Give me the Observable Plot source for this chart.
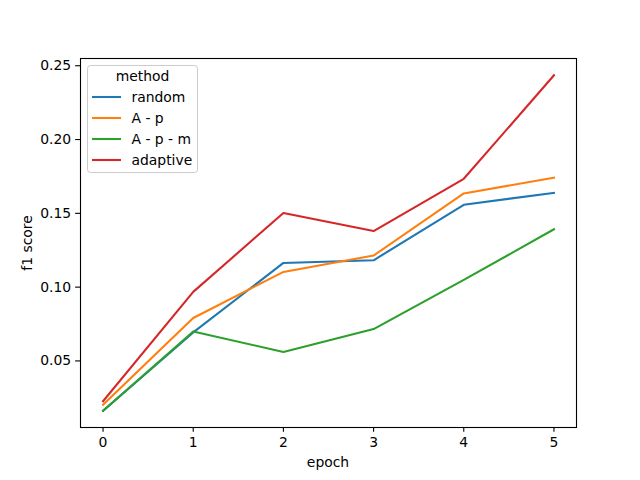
<!DOCTYPE html>
<html><head><meta charset="utf-8">
<script src="https://cdn.jsdelivr.net/npm/d3@7"></script>
<script src="https://cdn.jsdelivr.net/npm/@observablehq/plot@0.6"></script>
<style>body{margin:0;background:#fff} svg{font-family:"DejaVu Sans",sans-serif}</style>
</head><body><div id="chart"></div>
<script>
const epochs = [0, 1, 2, 3, 4, 5];
const methods = ["random", "A - p", "A - p - m", "adaptive"];
const colors = ["#1f77b4", "#ff7f0e", "#2ca02c", "#d62728"];
const random = [0.0162, 0.0693, 0.1164, 0.1182, 0.1558, 0.1639];
const ap = [0.0203, 0.0791, 0.1103, 0.1214, 0.1635, 0.1741];
const apm = [0.0162, 0.0700, 0.0561, 0.0716, 0.1049, 0.1392];
const adaptive = [0.0227, 0.0968, 0.1502, 0.1380, 0.1734, 0.2435];
const yTicks = [0.05, 0.10, 0.15, 0.20, 0.25];
const xLabel = "epoch", yLabel = "f1 score", legendTitle = "method";

const series = [random, ap, apm, adaptive];
const rows = [];
methods.forEach((m, i) => epochs.forEach((e, j) => rows.push({method: m, epoch: e, f1: series[i][j]})));

const fs = 13.9, tick = 4.86;
const plot = Plot.plot({
  width: 640, height: 480,
  marginLeft: 80, marginRight: 64, marginTop: 58, marginBottom: 53,
  style: {fontFamily: "DejaVu Sans", fontSize: fs + "px", background: "white", color: "black"},
  x: {domain: [-0.25, 5.25]},
  y: {domain: [0.0049, 0.2549]},
  color: {domain: methods, range: colors},
  marks: [
    Plot.axisX({ticks: epochs, tickFormat: d => String(d), tickSize: tick, tickPadding: 4.5, fontSize: fs, label: null, strokeWidth: 1.1}),
    Plot.axisY({ticks: yTicks, tickFormat: d3.format(".2f"), tickSize: tick, tickPadding: 4.5, fontSize: fs, label: null, strokeWidth: 1.1}),
    Plot.line(rows, {x: "epoch", y: "f1", stroke: "method", strokeWidth: 2.08, strokeLinecap: "square", strokeLinejoin: "round"}),
    Plot.frame({stroke: "black", strokeWidth: 1.1})
  ]
});
document.getElementById("chart").appendChild(plot);

const svg = d3.select(plot);
svg.append("text").attr("x", 328).attr("y", 462).attr("text-anchor", "middle")
  .attr("dominant-baseline", "central").attr("font-size", fs).attr("fill", "black").text(xLabel);
svg.append("text").attr("transform", "translate(27,243) rotate(-90)").attr("text-anchor", "middle")
  .attr("dominant-baseline", "central").attr("font-size", fs).attr("fill", "black").text(yLabel);

const lg = svg.append("g");
lg.append("rect").attr("x", 87.5).attr("y", 65.5).attr("width", 110).attr("height", 107).attr("rx", 3)
  .attr("fill", "white").attr("fill-opacity", 0.8).attr("stroke", "#cccccc").attr("stroke-width", 1);
lg.append("text").attr("x", 142.5).attr("y", 76).attr("text-anchor", "middle")
  .attr("dominant-baseline", "central").attr("font-size", fs).attr("fill", "black").text(legendTitle);
methods.forEach((m, i) => {
  const y = 97 + i * 21;
  lg.append("line").attr("x1", 92).attr("x2", 121).attr("y1", y).attr("y2", y)
    .attr("stroke", colors[i]).attr("stroke-width", 2.08);
  lg.append("text").attr("x", 131.5).attr("y", y).attr("text-anchor", "start").attr("dominant-baseline", "central")
    .attr("font-size", fs).attr("fill", "black").text(m);
});
</script>
</body></html>
